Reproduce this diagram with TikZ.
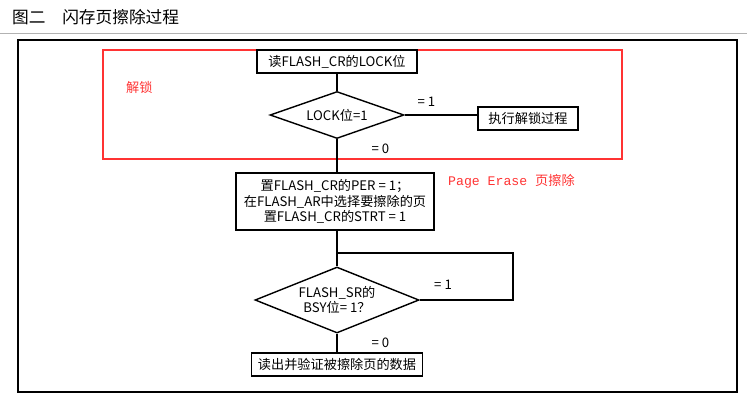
\documentclass[tikz,border=0pt]{standalone}
\usepackage{fontspec}
\setmainfont{Noto Sans CJK SC}
\newfontfamily\monofont{Liberation Mono}
\usetikzlibrary{shapes.geometric}
\begin{document}
\begin{tikzpicture}[x=0.02cm, y=-0.02cm,
    every node/.style={font=\fontsize{7.5}{9}\selectfont},
    stepbox/.style={draw, thick, inner sep=0pt},
    test/.style={draw, thick, diamond, aspect=2.2, inner sep=0pt, align=center}]
      \useasboundingbox (0,0) rectangle (747,400);
      % title and frame
      \node[anchor=west, font=\fontsize{9.5}{11}\selectfont] (title) at (6,17) {图二\quad 闪存页擦除过程};
      \draw[gray!60] (0,33) -- (747,33);
      \draw[thick] (18,40) rectangle (737,392);
      % unlock region
      \draw[red!80, thick] (103,50) rectangle (622,159);
      \node[red!80, anchor=west] (unlock) at (120,87) {解锁};
      \node[red!80, anchor=west, font=\fontsize{7.5}{9}\selectfont\monofont] (pe) at (442,181) {Page Erase {\rmfamily 页擦除}};
      % boxes
      \node[stepbox, minimum width=160*0.02cm, minimum height=23*0.02cm] (read) at (337,61.5) {读FLASH\_CR的LOCK位};
      \node[test, minimum width=134*0.02cm, minimum height=47*0.02cm] (lock) at (337,115) {LOCK位=1};
      \node[stepbox, minimum width=100*0.02cm, minimum height=23*0.02cm] (do) at (528,118.5) {执行解锁过程};
      \node[stepbox, minimum width=198*0.02cm, minimum height=57*0.02cm, align=center] (set) at (335,201.5) {置FLASH\_CR的PER = 1；\\在FLASH\_AR中选择要擦除的页\\置FLASH\_CR的STRT = 1};
      \node[test, minimum width=164*0.02cm, minimum height=66*0.02cm] (busy) at (337,300) {FLASH\_SR的\\BSY位= 1？};
      \node[stepbox, minimum width=171*0.02cm, minimum height=23*0.02cm] (check) at (337,364.5) {读出并验证被擦除页的数据};
      % connectors
      \draw[thick] (read) -- (lock);
      \draw[thick] (lock.east) -- (lock.east -| do.west) node[pos=0.3, above=1pt] {= 1};
      \draw[thick] (lock.south) -- (lock.south |- set.north) node[pos=0.3, right=16pt] {= 0};
      \draw[thick] (busy.north |- set.south) -- (busy.north);
      \coordinate (loopA) at (337,253);
      \coordinate (loopB) at (513,253);
      \draw[thick] (loopA) -- (loopB) -- (loopB |- busy.east) -- (busy.east) node[pos=0.75, above=2pt] {= 1};
      \draw[thick] (busy.south) -- (check.north) node[midway, right=16pt] {= 0};
\end{tikzpicture}
\end{document}
